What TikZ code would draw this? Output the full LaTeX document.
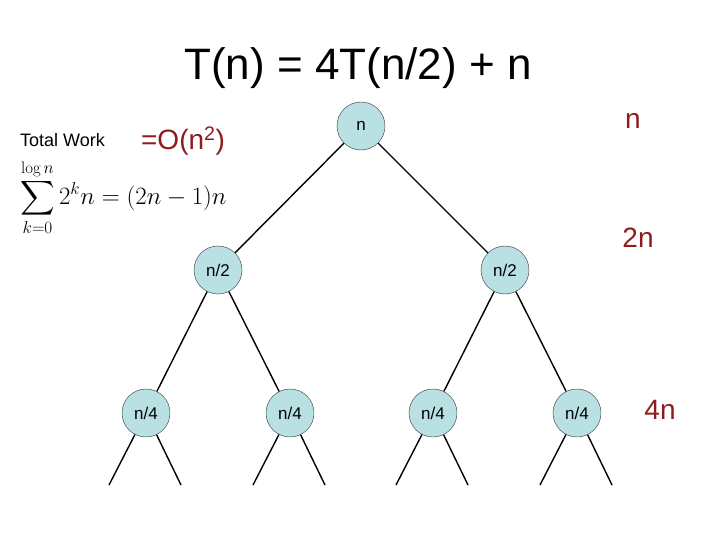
\documentclass[tikz,border=0pt]{standalone}
\usepackage{amsmath,amssymb}
\usepackage{fontspec}
\setsansfont{Liberation Sans}
\usetikzlibrary{calc}

\definecolor{nodefill}{HTML}{B9E0E3}
\definecolor{inkred}{HTML}{8E1B1E}

\tikzset{
    treenode/.style={circle, draw=black!80, fill=nodefill, minimum size=48pt, inner sep=0pt, font=\sffamily\fontsize{17}{20}\selectfont},
    edge/.style={draw=black, line width=1.4pt},
    ink/.style={text=inkred, font=\sffamily\fontsize{28}{32}\selectfont}
}

\begin{document}
\begin{tikzpicture}[x=1pt, y=-1pt]
    \useasboundingbox (0,0) rectangle (720,540);

    \node[font=\sffamily\fontsize{44}{50}\selectfont] (title) at (358,68) {T(n) = 4T(n/2) + n};

    \node[treenode] (R) at (361,126) {n};
    \node[treenode] (L) at (218,270) {n/2};
    \node[treenode] (M) at (505,270) {n/2};
    \node[treenode] (LL) at (146,413) {n/4};
    \node[treenode] (LR) at (290,413) {n/4};
    \node[treenode] (ML) at (433,413) {n/4};
    \node[treenode] (MR) at (577,413) {n/4};

    \draw[edge] (R) -- (L);
    \draw[edge] (R) -- (M);
    \draw[edge] (L) -- (LL);
    \draw[edge] (L) -- (LR);
    \draw[edge] (M) -- (ML);
    \draw[edge] (M) -- (MR);

    \foreach \p/\x in {LL/146, LR/290, ML/433, MR/577} {
        \coordinate (\p a) at (\x-37,485);
        \coordinate (\p b) at (\x+35,485);
        \draw[edge] (\p) -- (\p a);
        \draw[edge] (\p) -- (\p b);
    }

    \node[anchor=west, inner sep=0pt, font=\sffamily\fontsize{18}{21}\selectfont] (total) at (20,140) {Total Work};
    \node[anchor=north west, inner sep=0pt, font=\fontsize{24}{28}\selectfont] (sum) at (20,159)
        {$\displaystyle\sum_{k=0}^{\log n} 2^k n = (2n-1)n$};

    \node[ink] (bound) at (183,141) {=O(n\textsuperscript{2})};
    \node[ink] (w0) at (633,121) {n};
    \node[ink] (w1) at (638,238) {2n};
    \node[ink] (w2) at (660,410) {4n};
\end{tikzpicture}
\end{document}
